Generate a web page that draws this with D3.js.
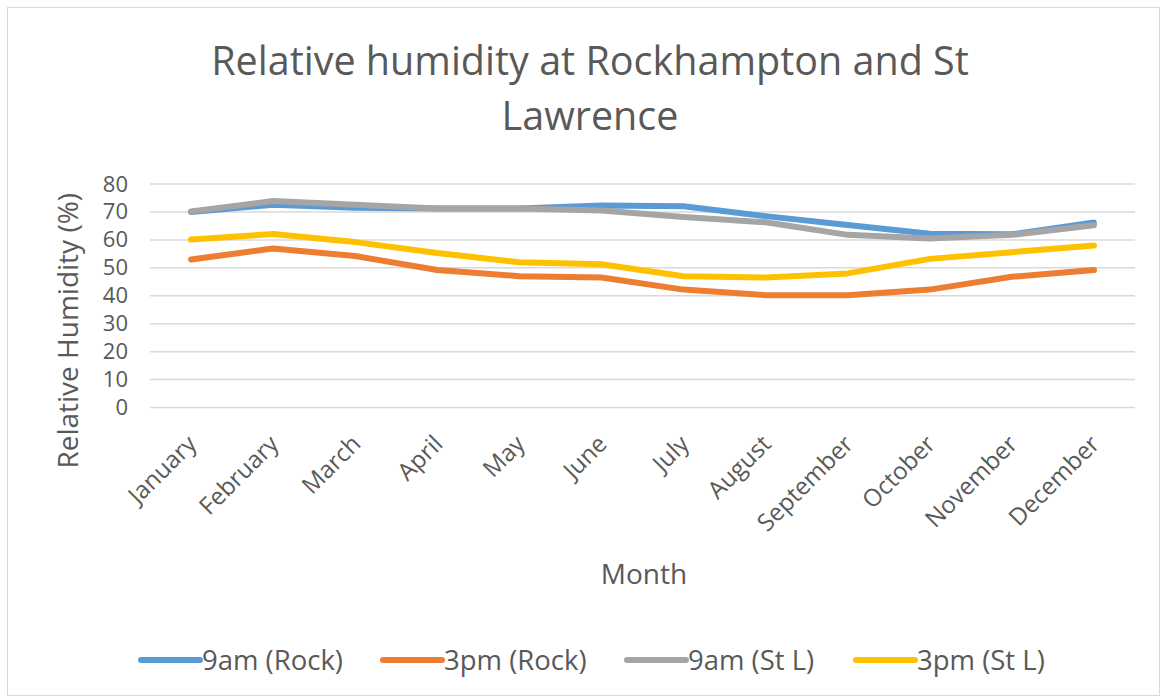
<!DOCTYPE html>
<html>
<head>
<meta charset="utf-8">
<script src="https://cdn.jsdelivr.net/npm/d3@7"></script>
<style>
  body { margin: 0; background: #fff; }
  text { font-family: "Open Sans", "DejaVu Sans", sans-serif; fill: #595959; }
</style>
</head>
<body>
<svg width="1164" height="699"></svg>
<script>
// data
var months = ["January", "February", "March", "April", "May", "June",
	"July", "August", "September", "October", "November", "December"];
var rock9am = [70, 72.6, 71.5, 71.2, 71.2, 72.3, 72, 68.5, 65.3, 62.2, 62, 66.2];
var rock3pm = [53, 56.9, 54.2, 49.2, 47, 46.5, 42.2, 40.2, 40.2, 42.2, 46.8, 49.2];
var stl9am = [70.2, 73.9, 72.6, 71.2, 71.2, 70.5, 68.2, 66.3, 61.8, 60.5, 61.8, 65.2];
var stl3pm = [60.1, 62.1, 59.2, 55.3, 52, 51.3, 47, 46.5, 48, 53.2, 55.6, 58];
var yTicks = [0, 10, 20, 30, 40, 50, 60, 70, 80];

var series = [
	{name: "9am (Rock)", values: rock9am, color: "#5b9bd5"},
	{name: "3pm (Rock)", values: rock3pm, color: "#ed7d31"},
	{name: "9am (St L)", values: stl9am, color: "#a5a5a5"},
	{name: "3pm (St L)", values: stl3pm, color: "#ffc000"}
];

var svg = d3.select("svg");

// chart frame
svg.append("rect")
	.attr("x", 7.5).attr("y", 7.5)
	.attr("width", 1152).attr("height", 688)
	.attr("fill", "#fff")
	.attr("stroke", "#d9d9d9");

var plotLeft = 150, plotRight = 1135, plotTop = 184, plotBottom = 407.5;

var x = d3.scaleBand().domain(months).range([plotLeft, plotRight]);
var y = d3.scaleLinear().domain([0, 80]).range([plotBottom, plotTop]);

// title
svg.append("text")
	.attr("x", 590).attr("y", 75)
	.attr("text-anchor", "middle")
	.style("font-size", "39.5px")
	.text("Relative humidity at Rockhampton and St");
svg.append("text")
	.attr("x", 590).attr("y", 130)
	.attr("text-anchor", "middle")
	.style("font-size", "39.5px")
	.text("Lawrence");

// gridlines
svg.append("g")
	.selectAll("line")
	.data(yTicks)
	.enter()
	.append("line")
	.attr("x1", plotLeft).attr("x2", plotRight)
	.attr("y1", function (d) { return y(d); })
	.attr("y2", function (d) { return y(d); })
	.attr("stroke", "#d9d9d9")
	.attr("stroke-width", 1.5);

// y axis
var yAxis = svg.append("g")
	.attr("transform", "translate(128,0)")
	.call(d3.axisLeft(y).tickValues(yTicks).tickSize(0).tickPadding(0));
yAxis.select(".domain").remove();
yAxis.selectAll("text")
	.style("font-size", "22px")
	.style("font-family", "\"Open Sans\", sans-serif")
	.attr("fill", "#595959");

// x axis
var xAxis = svg.append("g")
	.attr("transform", "translate(0," + (plotBottom + 30) + ")")
	.call(d3.axisBottom(x).tickSize(0).tickPadding(0));
xAxis.select(".domain").remove();
xAxis.selectAll("text")
	.style("font-size", "24px")
	.style("font-family", "\"Open Sans\", sans-serif")
	.attr("fill", "#595959")
	.attr("text-anchor", "end")
	.attr("dy", "0.35em")
	.attr("transform", "translate(1,2) rotate(-45)");

// axis titles
svg.append("text")
	.attr("transform", "translate(78," + ((plotTop + plotBottom) / 2 + 35) + ") rotate(-90)")
	.attr("text-anchor", "middle")
	.style("font-size", "28px")
	.text("Relative Humidity (%)");
svg.append("text")
	.attr("x", 644).attr("y", 584)
	.attr("text-anchor", "middle")
	.style("font-size", "28px")
	.text("Month");

// lines
var line = d3.line()
	.x(function (d, i) { return x(months[i]) + x.bandwidth() / 2; })
	.y(function (d) { return y(d); });

svg.append("g")
	.selectAll("path")
	.data(series)
	.enter()
	.append("path")
	.attr("d", function (d) { return line(d.values); })
	.attr("fill", "none")
	.attr("stroke", function (d) { return d.color; })
	.attr("stroke-width", 6)
	.attr("stroke-linecap", "round")
	.attr("stroke-linejoin", "round");

// legend
var legendX = [141, 383, 627, 856];
var legend = svg.append("g")
	.selectAll("g")
	.data(series)
	.enter()
	.append("g")
	.attr("transform", function (d, i) { return "translate(" + legendX[i] + ",660)"; });
legend.append("line")
	.attr("x1", 0).attr("x2", 59)
	.attr("stroke", function (d) { return d.color; })
	.attr("stroke-width", 6)
	.attr("stroke-linecap", "round");
legend.append("text")
	.attr("x", 61).attr("dy", "0.35em")
	.style("font-size", "27.5px")
	.text(function (d) { return d.name; });
</script>
</body>
</html>
